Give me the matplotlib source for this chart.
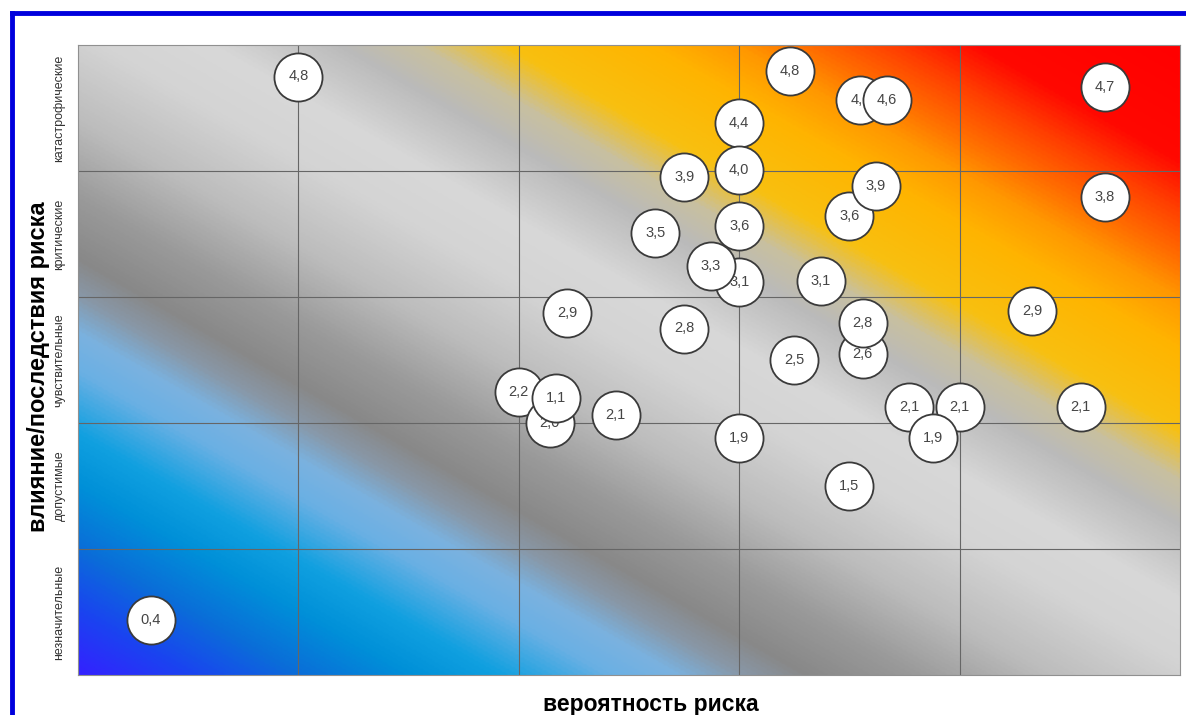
import matplotlib
matplotlib.use("Agg")
import matplotlib.pyplot as plt
import numpy as np
from matplotlib.colors import LinearSegmentedColormap
from matplotlib.lines import Line2D

plt.rcParams["font.family"] = ["Liberation Sans", "DejaVu Sans"]

# risk bubbles: probability (x), impact (y), label
prob = [1.00, 3.23, 3.55, 3.67, 4.66, 3.00, 3.00, 2.75, 3.50, 3.62, 4.66,
        3.00, 2.62, 3.00, 2.87, 3.37, 2.22, 4.33, 2.75, 3.56, 3.56, 3.25,
        2.00, 2.14, 2.17, 2.44, 3.00, 3.77, 4.00, 3.88, 4.55, 3.50, 0.33]
impact = [4.75, 4.79, 4.56, 4.56, 4.67, 4.38, 4.01, 3.95, 3.64, 3.88, 3.79,
          3.56, 3.51, 3.12, 3.25, 3.13, 2.87, 2.89, 2.75, 2.55, 2.79, 2.50,
          2.25, 2.00, 2.20, 2.06, 1.88, 2.13, 2.13, 1.88, 2.13, 1.50, 0.44]
labels = ["4,8", "4,8", "4,6", "4,6", "4,7", "4,4", "4,0", "3,9", "3,6", "3,9",
          "3,8", "3,6", "3,5", "3,1", "3,3", "3,1", "2,9", "2,9", "2,8", "2,6",
          "2,8", "2,5", "2,2", "2,0", "1,1", "2,1", "1,9", "2,1", "2,1", "1,9",
          "2,1", "1,5", "0,4"]

impact_levels = ["незначительные", "допустимые", "чувствительные",
                 "критические", "катастрофические"]

# background colour stops along the diagonal (0 = bottom-left, 1 = top-right)
stops = [(0.00, "#3322ff"), (0.05, "#1a44f0"), (0.10, "#0a6ed8"),
         (0.15, "#0090d8"), (0.19, "#10a0e0"), (0.24, "#6ab0e4"),
         (0.27, "#7ab2e0"), (0.30, "#8898a8"), (0.33, "#888888"),
         (0.38, "#9a9a9a"), (0.44, "#bcbcbc"), (0.51, "#d4d4d4"),
         (0.56, "#d8d8d8"), (0.62, "#bababa"), (0.655, "#c8c0a0"),
         (0.695, "#f8c010"), (0.76, "#ffb400"), (0.80, "#ff9800"),
         (0.83, "#ff7000"), (0.87, "#ff4000"), (0.91, "#ff0800"),
         (1.00, "#ff0000")]
cmap = LinearSegmentedColormap.from_list("risk", stops)

fig = plt.figure(figsize=(11.86, 7.15), dpi=100)
ax = fig.add_axes([78 / 1186, 40 / 715, 1102 / 1186, 630 / 715])

gx, gy = np.meshgrid(np.linspace(0, 5, 600), np.linspace(0, 5, 400))
t = (gx / 5 + gy / 5) / 2
ax.imshow(t, cmap=cmap, vmin=0, vmax=1, extent=[0, 5, 0, 5],
          origin="lower", aspect="auto", interpolation="bilinear", zorder=0)

for v in range(1, 5):
    ax.axvline(v, color="#666666", lw=0.8, zorder=1)
    ax.axhline(v, color="#666666", lw=0.8, zorder=1)

for i, (x, y, lab) in enumerate(zip(prob, impact, labels)):
    ax.scatter([x], [y], s=1200, facecolor="white", edgecolor="#3a3a3a",
               linewidth=1.3, zorder=3 + 2 * i)
    ax.text(x, y, lab, ha="center", va="center", fontsize=10.5,
            color="#454545", zorder=4 + 2 * i)

ax.set_xlim(0, 5)
ax.set_ylim(0, 5)
ax.set_xticks([])
ax.set_yticks(np.arange(5) + 0.5)
ax.set_yticklabels(impact_levels, rotation=90, va="center", fontsize=9,
                   color="#333333")
ax.tick_params(axis="y", length=0, pad=9)
for s in ax.spines.values():
    s.set_color("#909090")
    s.set_linewidth(0.8)

ax.set_xlabel("вероятность риска", fontsize=16.5, fontweight="bold")
ax.xaxis.set_label_coords(0.52, -0.028)
ax.set_ylabel("влияние/последствия риска", fontsize=17, fontweight="bold")
ax.yaxis.set_label_coords(-0.025, 0.49)

# blue frame (top and left edges visible)
fig.add_artist(Line2D([12 / 1186, 1], [1 - 13 / 715, 1 - 13 / 715],
                      color="#0000dd", lw=3.5))
fig.add_artist(Line2D([12 / 1186, 12 / 1186], [0, 1 - 13 / 715],
                      color="#0000dd", lw=3.5))

fig.savefig("out.png", dpi=100)
